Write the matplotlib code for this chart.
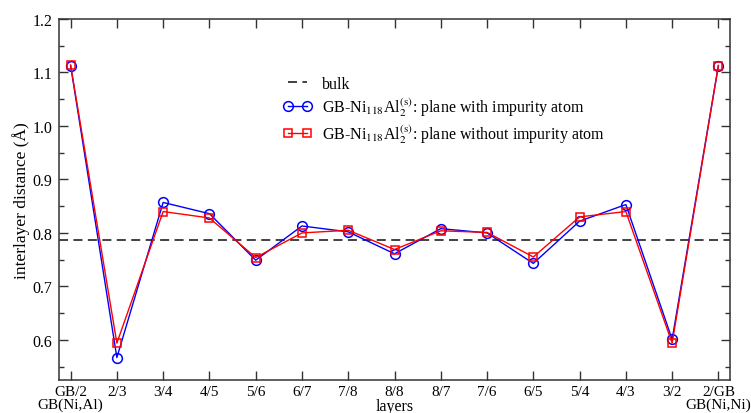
import matplotlib
matplotlib.use("Agg")
import matplotlib.pyplot as plt
from matplotlib.ticker import MultipleLocator

plt.rcParams['font.family'] = ['Liberation Serif', 'DejaVu Serif']
plt.rcParams['mathtext.fontset'] = 'stix'

layers = ["GB/2\nGB(Ni,Al)", "2/3", "3/4", "4/5", "5/6", "6/7", "7/8", "8/8",
          "8/7", "7/6", "6/5", "5/4", "4/3", "3/2", "2/GB\nGB(Ni,Ni)"]
with_imp = [1.113, 0.567, 0.857, 0.836, 0.749, 0.813, 0.802, 0.761,
            0.808, 0.800, 0.743, 0.822, 0.853, 0.601, 1.113]
without_imp = [1.114, 0.594, 0.840, 0.828, 0.754, 0.800, 0.805, 0.769,
               0.804, 0.801, 0.755, 0.830, 0.840, 0.594, 1.113]
bulk = 0.787

x = list(range(len(layers)))

fig = plt.figure(figsize=(7.51, 4.14), dpi=100)
ax = fig.add_axes([0.0786, 0.0797, 0.8934, 0.872])

ax.axhline(bulk, color='#333333', lw=1.3, ls=(0, (5, 3)), label='bulk')
ax.plot(x, with_imp, color='blue', lw=1.0, marker='o', ms=7, mfc='none',
        mew=1.1, label=r'GB-Ni$_{118}$Al$_{2}^{\mathrm{(s)}}$: plane with impurity atom')
ax.plot(x, without_imp, color='red', lw=1.0, marker='s', ms=6, mfc='none',
        mew=1.1, label=r'GB-Ni$_{118}$Al$_{2}^{\mathrm{(s)}}$: plane without impurity atom')

ax.set_xlim(-0.25, 14.25)
ax.set_ylim(0.525, 1.2)
ax.set_xticks(x)
ax.set_xticklabels(layers, fontsize=11)
for t in ax.get_xticklabels():
    t.set_linespacing(0.95)
ax.yaxis.set_major_locator(MultipleLocator(0.1))
ax.yaxis.set_minor_locator(MultipleLocator(0.05))
ax.yaxis.set_major_formatter(plt.FormatStrFormatter('%.1f'))
ax.tick_params(which='both', direction='in', top=True, right=True,
               color='#333333')
ax.tick_params(axis='y', labelsize=11.5)
ax.tick_params(which='major', length=6.5, width=1.0, pad=5)
ax.tick_params(axis='x', which='major', pad=3.5)
ax.tick_params(which='minor', length=3.6, width=1.0)
for s in ax.spines.values():
    s.set_linewidth(1.1)
    s.set_color('#333333')

ax.set_ylabel('interlayer distance (Å)', fontsize=12.5, labelpad=1.5)
ax.set_xlabel('layers', fontsize=11.5, va='baseline')
ax.xaxis.set_label_coords(0.5, -0.083)

ax.legend(loc='upper left', bbox_to_anchor=(0.325, 0.86), frameon=False,
          fontsize=11.5, numpoints=2, handlelength=1.8, handletextpad=0.6,
          labelspacing=0.22, borderaxespad=0)

fig.savefig('out.png', dpi=100)
